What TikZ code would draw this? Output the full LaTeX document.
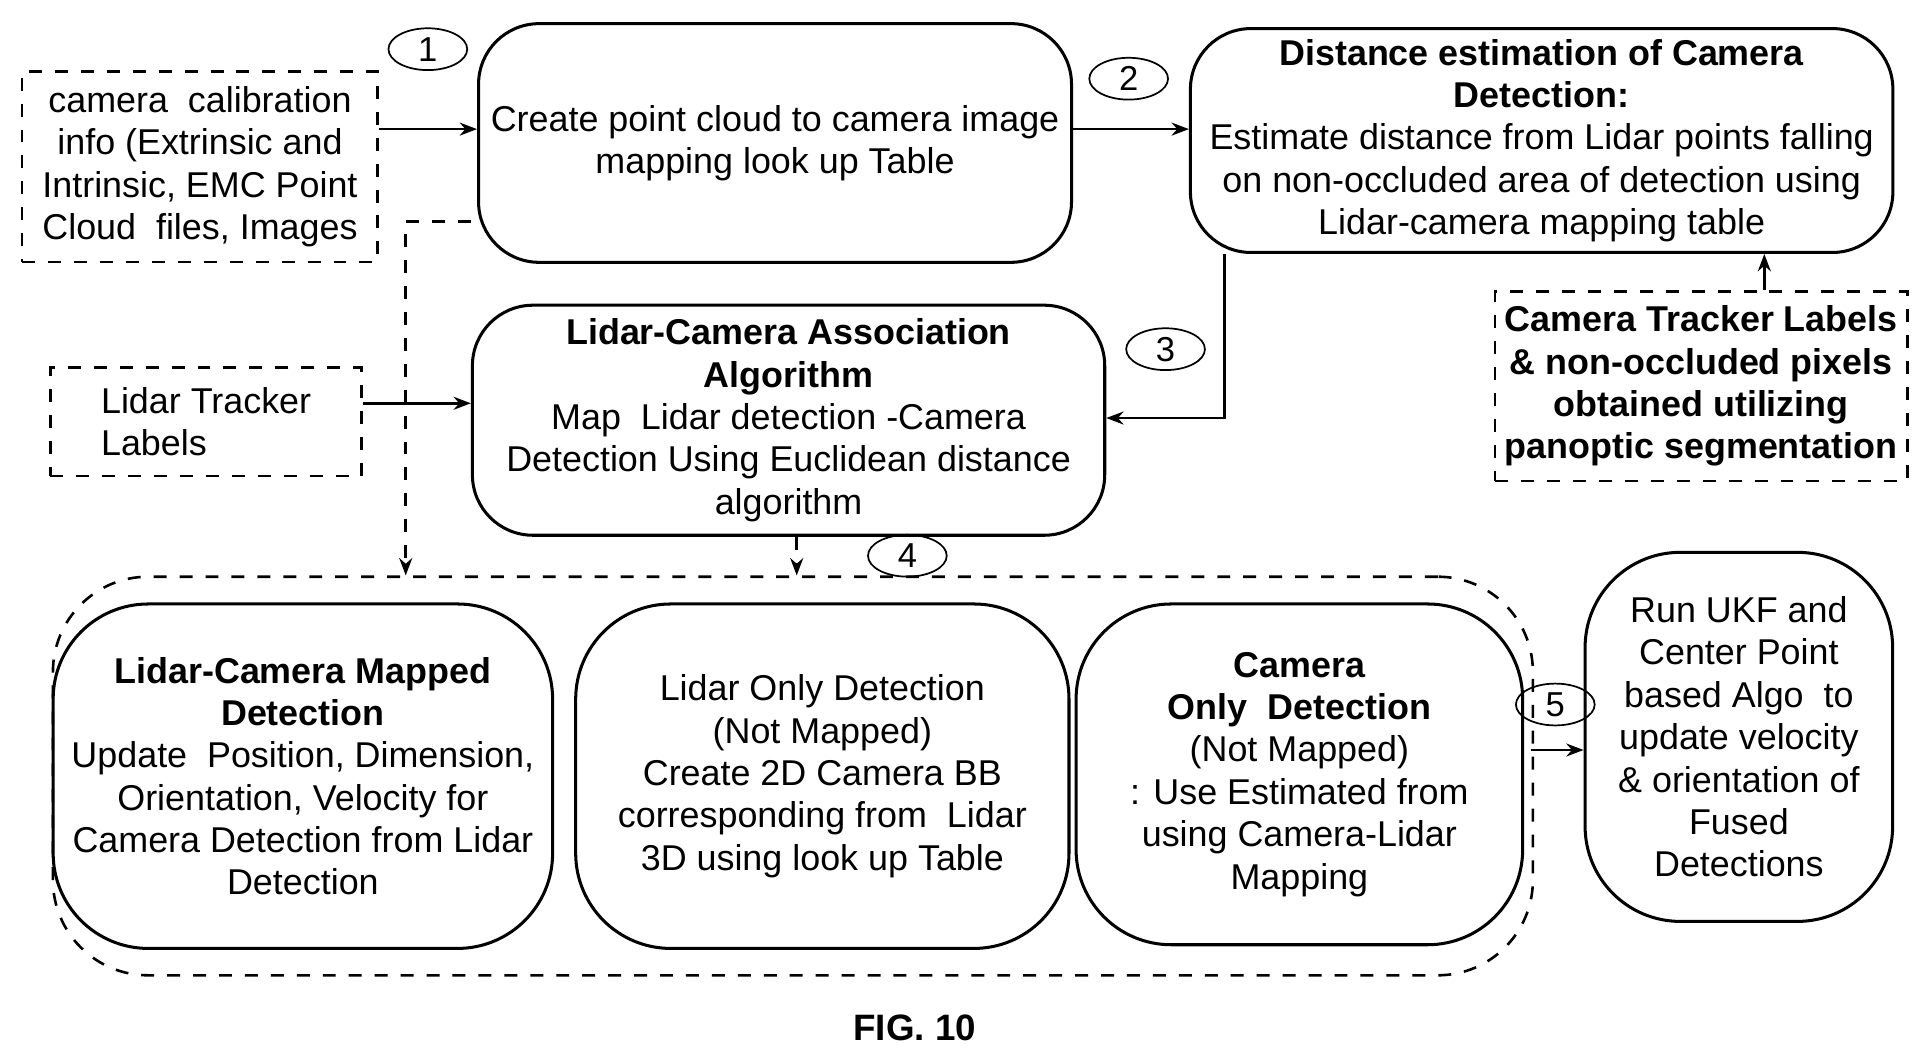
\documentclass[tikz,border=0pt]{standalone}
\usepackage{fontspec}
\setmainfont{Liberation Sans}
\usetikzlibrary{arrows.meta,positioning,shapes.geometric}
\tikzset{
  box/.style={draw,rounded corners=14pt,align=center,inner sep=2pt,line width=0.7pt},
  dbox/.style={draw,dashed,align=center,inner sep=2pt,line width=0.6pt},
  num/.style={draw,ellipse,minimum width=0.64cm,minimum height=0.34cm,inner sep=0pt,font=\fontsize{8}{9}\selectfont},
  arr/.style={-{Stealth[length=4pt,width=3pt]},line width=0.6pt},
}
\newcommand{\bx}[5]{\node[#1,minimum width=#4*0.01cm-#2*0.01cm,minimum height=0.01cm*#5,anchor=north west] }
\begin{document}
\begin{tikzpicture}[x=0.01cm,y=-0.01cm,font=\fontsize{8.3}{9.8}\selectfont]
\useasboundingbox (0,0) rectangle (1560,860);
% boxes
\node[dbox,minimum width=2.89cm,minimum height=1.55cm,anchor=north west] (calib) at (17,57)
  {camera\ \ calibration\\ info (Extrinsic and\\ Intrinsic, EMC Point\\ Cloud\ \ files, Images};
\node[box,minimum width=4.82cm,minimum height=1.94cm,anchor=north west] (create) at (388,18)
  {Create point cloud to camera image\\ mapping look up Table};
\node[box,minimum width=5.71cm,minimum height=1.82cm,anchor=north west] (dist) at (967,22)
  {\textbf{Distance estimation of Camera}\\ \textbf{Detection:}\\ Estimate distance from Lidar points falling\\ on non-occluded area of detection using\\ Lidar-camera mapping table};
\node[dbox,minimum width=3.35cm,minimum height=1.54cm,anchor=north west] (ctrack) at (1215,236)
  {\bfseries Camera Tracker Labels\\ \bfseries \& non-occluded pixels\\ \bfseries obtained utilizing\\ \bfseries panoptic segmentation};
\node[dbox,minimum width=2.53cm,minimum height=0.88cm,anchor=north west,align=left] (ltrack) at (40,298)
  {Lidar Tracker\\ Labels};
\node[box,minimum width=5.14cm,minimum height=1.87cm,anchor=north west] (assoc) at (383,247)
  {\textbf{Lidar-Camera Association}\\ \textbf{Algorithm}\\ Map\ \ Lidar detection -Camera\\ Detection Using Euclidean distance\\ algorithm};
\node[draw,dashed,rounded corners=22pt,minimum width=12.03cm,minimum height=3.24cm,anchor=north west,line width=0.6pt] (group) at (42,468) {};
\node[box,rounded corners=22pt,minimum width=4.06cm,minimum height=2.8cm,anchor=north west] (mapped) at (42,490)
  {\textbf{Lidar-Camera Mapped}\\ \textbf{Detection}\\ Update\ \ Position, Dimension,\\ Orientation, Velocity for\\ Camera Detection from Lidar\\ Detection};
\node[box,rounded corners=22pt,minimum width=4.01cm,minimum height=2.8cm,anchor=north west] (lonly) at (467,490)
  {Lidar Only Detection\\ (Not Mapped)\\ Create 2D Camera BB\\ corresponding from\ \ Lidar\\ 3D using look up Table};
\node[box,rounded corners=22pt,minimum width=3.63cm,minimum height=2.77cm,anchor=north west] (conly) at (874,490)
  {\textbf{Camera}\\ \textbf{Only\ \ Detection}\\ (Not Mapped)\\ : Use Estimated from\\ using Camera-Lidar\\ Mapping};
\node[box,rounded corners=22pt,minimum width=2.5cm,minimum height=3.0cm,anchor=north west] (ukf) at (1288,448)
  {Run UKF and\\ Center Point\\ based Algo\ \ to\\ update velocity\\ \& orientation of\\ Fused\\ Detections};
% numbers
\node[num] (n1) at (348,40) {1};
\node[num] (n2) at (918,64) {2};
\node[num] (n3) at (948,284) {3};
\node[num] (n4) at (738,452) {4};
\node[num] (n5) at (1265,573) {5};
\node[font=\bfseries\fontsize{8.5}{10}\selectfont] (fig) at (744,836) {FIG. 10};
% connectors
\coordinate (c1) at (996,340);
\coordinate (d1) at (383,180);
\coordinate (d2) at (330,180);
\coordinate (d3) at (330,468);
\coordinate (e1) at (648,468);
\coordinate (u1) at (1245,610);
\draw[arr] (calib.east |- 0,105) -- (create.west |- 0,105);
\draw[arr] (create.east |- 0,105) -- (dist.west |- 0,105);
\draw[arr] (dist.south -| c1) -- (c1) -- (assoc.east |- c1);
\draw[arr] (ctrack.north -| 1435,0) -- (dist.south -| 1435,0);
\draw[arr] (ltrack.east |- 0,328) -- (assoc.west |- 0,328);
\draw[arr,dashed] (d1) -- (d2) -- (d3);
\draw[arr,dashed] (assoc.south -| e1) -- (e1);
\draw[arr] (u1) -- (ukf.west |- u1);
\end{tikzpicture}
\end{document}
